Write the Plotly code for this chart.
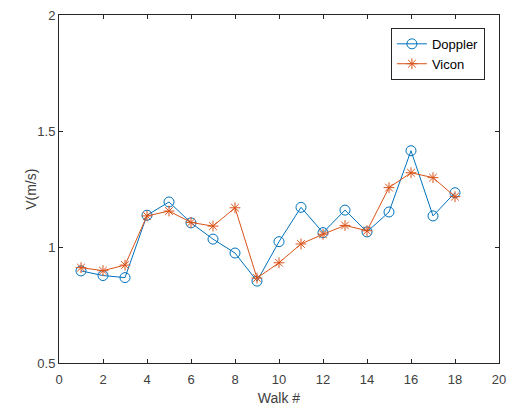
import plotly.graph_objects as go

walk = list(range(1, 19))
doppler = [0.897, 0.877, 0.868, 1.137, 1.194, 1.104, 1.034, 0.974, 0.853, 1.023, 1.171, 1.062,
           1.159, 1.065, 1.151, 1.415, 1.134, 1.234]
vicon = [0.911, 0.898, 0.922, 1.134, 1.155, 1.106, 1.090, 1.169, 0.866, 0.932, 1.013, 1.055,
         1.093, 1.070, 1.256, 1.320, 1.299, 1.217]

x_ticks = list(range(0, 21, 2))
y_ticks = [0.5, 1, 1.5, 2]

FONT = "Liberation Sans, Arial"

fig = go.Figure()
fig.add_trace(go.Scatter(x=walk, y=doppler, mode="lines+markers", name="Doppler",
                         line=dict(color="#0072BD", width=1),
                         marker=dict(symbol="circle-open", size=10, color="#0072BD",
                                     line=dict(width=1))))
fig.add_trace(go.Scatter(x=walk, y=vicon, mode="lines+markers", name="Vicon",
                         line=dict(color="#D95319", width=1),
                         marker=dict(symbol="asterisk-open", size=9, color="#D95319",
                                     line=dict(width=1, color="#D95319"))))

axis_common = dict(showline=True, linecolor="#262626", linewidth=1, mirror="allticks",
                   ticks="inside", ticklen=4, tickcolor="#262626", showgrid=False,
                   zeroline=False, automargin=False,
                   tickfont=dict(family=FONT, size=13, color="#404040"))
fig.update_xaxes(range=[0, 20], tickvals=x_ticks, ticktext=[str(v) for v in x_ticks],
                 ticklabelstandoff=4,
                 title=dict(text="Walk #", font=dict(family=FONT, size=14, color="#404040"), standoff=10),
                 **axis_common)
fig.update_yaxes(range=[0.5, 2], tickvals=y_ticks, ticktext=["0.5", "1", "1.5", "2"],
                 **axis_common)

fig.add_annotation(text="V(m/s)", textangle=-90, xref="paper", yref="paper",
                   x=-0.064, y=0.5, xanchor="center", yanchor="middle", showarrow=False,
                   font=dict(family=FONT, size=14, color="#404040"))

fig.update_layout(
    width=508, height=406,
    margin=dict(l=59, r=9, t=15, b=43, autoexpand=False),
    plot_bgcolor="white", paper_bgcolor="white",
    font=dict(family=FONT, size=13, color="#262626"),
    legend=dict(x=0.968, y=0.963, xanchor="right", yanchor="top",
                bordercolor="#262626", borderwidth=1, bgcolor="white",
                font=dict(family=FONT, size=13, color="#000000"), tracegroupgap=0,
                itemwidth=30),
    showlegend=True,
)

fig.write_html("out.html")
